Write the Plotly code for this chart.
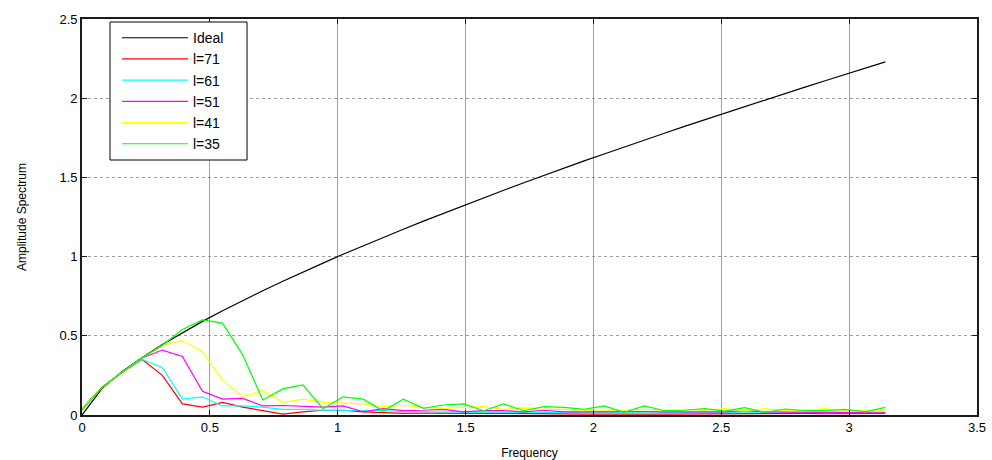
import plotly.graph_objects as go

# Frequency samples (0 .. pi, 41 points)
frequency = [0.0, 0.0785, 0.1571, 0.2356, 0.3142, 0.3927, 0.4712, 0.5498, 0.6283, 0.7069,
             0.7854, 0.8639, 0.9425, 1.0210, 1.0996, 1.1781, 1.2566, 1.3352, 1.4137, 1.4923,
             1.5708, 1.6493, 1.7279, 1.8064, 1.8850, 1.9635, 2.0420, 2.1206, 2.1991, 2.2777,
             2.3562, 2.4347, 2.5133, 2.5918, 2.6704, 2.7489, 2.8274, 2.9060, 2.9845, 3.0631,
             3.1416]

ideal = [0.0, 0.168, 0.274, 0.363, 0.445, 0.520, 0.591, 0.658, 0.722, 0.784,
         0.844, 0.903, 0.959, 1.015, 1.069, 1.122, 1.173, 1.224, 1.274, 1.323,
         1.372, 1.419, 1.466, 1.513, 1.558, 1.604, 1.648, 1.693, 1.736, 1.779,
         1.822, 1.864, 1.906, 1.948, 1.989, 2.030, 2.070, 2.110, 2.150, 2.189,
         2.229]

l71 = [0.04, 0.175, 0.27, 0.35, 0.25, 0.07, 0.05, 0.08, 0.05, 0.027,
       0.005, 0.02, 0.03, 0.03, 0.02, 0.015, 0.01, 0.012, 0.01, 0.008,
       0.01, 0.01, 0.008, 0.01, 0.008, 0.006, 0.006, 0.008, 0.006, 0.005,
       0.006, 0.006, 0.005, 0.006, 0.008, 0.01, 0.01, 0.008, 0.01, 0.01,
       0.01]

l61 = [0.04, 0.175, 0.27, 0.35, 0.30, 0.10, 0.115, 0.057, 0.057, 0.05,
       0.036, 0.036, 0.03, 0.03, 0.028, 0.028, 0.022, 0.02, 0.02, 0.018,
       0.02, 0.018, 0.02, 0.016, 0.018, 0.016, 0.015, 0.016, 0.014, 0.015,
       0.015, 0.016, 0.014, 0.015, 0.016, 0.018, 0.019, 0.02, 0.019, 0.018,
       0.019]

l51 = [0.04, 0.175, 0.27, 0.36, 0.41, 0.37, 0.15, 0.10, 0.105, 0.057,
       0.06, 0.057, 0.05, 0.057, 0.02, 0.04, 0.027, 0.03, 0.036, 0.02,
       0.027, 0.027, 0.02, 0.03, 0.02, 0.02, 0.022, 0.02, 0.022, 0.02,
       0.02, 0.018, 0.02, 0.027, 0.02, 0.018, 0.017, 0.017, 0.018, 0.015,
       0.013]

l41 = [0.04, 0.175, 0.27, 0.36, 0.44, 0.47, 0.40, 0.22, 0.115, 0.155,
       0.08, 0.10, 0.08, 0.074, 0.07, 0.053, 0.06, 0.048, 0.042, 0.048,
       0.053, 0.036, 0.044, 0.036, 0.036, 0.03, 0.03, 0.03, 0.036, 0.03,
       0.036, 0.03, 0.04, 0.027, 0.04, 0.027, 0.027, 0.04, 0.027, 0.027,
       0.03]

l35 = [0.03, 0.175, 0.27, 0.36, 0.44, 0.54, 0.60, 0.58, 0.38, 0.095,
       0.165, 0.19, 0.04, 0.115, 0.10, 0.025, 0.10, 0.042, 0.063, 0.07,
       0.027, 0.07, 0.027, 0.053, 0.048, 0.036, 0.057, 0.017, 0.057, 0.027,
       0.03, 0.04, 0.025, 0.046, 0.017, 0.038, 0.027, 0.027, 0.036, 0.02,
       0.048]

series_names = ["Ideal", "l=71", "l=61", "l=51", "l=41", "l=35"]
series_values = [ideal, l71, l61, l51, l41, l35]
series_colors = ["#000000", "#ff0000", "#00ffff", "#ff00ff", "#ffff00", "#00ff00"]

x_ticks = [0, 0.5, 1, 1.5, 2, 2.5, 3, 3.5]
x_tick_labels = ["0", "0.5", "1", "1.5", "2", "2.5", "3", "3.5"]
y_ticks = [0, 0.5, 1, 1.5, 2, 2.5]
y_tick_labels = ["0", "0.5", "1", "1.5", "2", "2.5"]

FONT = "Liberation Sans, Arial, Helvetica, sans-serif"

fig = go.Figure()
for name, vals, col in zip(series_names, series_values, series_colors):
    fig.add_trace(go.Scatter(
        x=frequency, y=vals, mode="lines", name=name,
        line=dict(color=col, width=1.2), legendgroup=name,
    ))

axis_common = dict(
    showline=True, linecolor="#1a1a1a", linewidth=1.6, mirror="ticks",
    ticks="inside", ticklen=5, tickcolor="#1a1a1a", tickwidth=1,
    showgrid=True, gridcolor="#a0a0a0", gridwidth=1, automargin=False,
    zeroline=False, tickfont=dict(family=FONT, size=13, color="#000"),
)

# legend frame (white box with black border, behind the legend entries)
fig.add_shape(type="rect", xref="paper", yref="paper",
              x0=0.0313, x1=0.1844, y0=0.6439, y1=0.9924,
              fillcolor="white", line=dict(color="#000", width=1), layer="above")

fig.update_layout(
    width=992, height=460,
    margin=dict(l=82, r=15, t=19, b=45),
    paper_bgcolor="white", plot_bgcolor="white",
    font=dict(family=FONT, size=13, color="#000"),
    xaxis=dict(range=[0, 3.5], tickvals=x_ticks, ticktext=x_tick_labels,
               title=dict(text="Frequency", font=dict(size=12), standoff=15),
               griddash="solid", **axis_common),
    yaxis=dict(range=[0, 2.5], tickvals=y_ticks, ticktext=y_tick_labels,
               title=dict(text="Amplitude Spectrum", font=dict(size=12), standoff=30),
               griddash="dot", **axis_common),
    legend=dict(
        x=0.0391, y=0.992, xanchor="left", yanchor="top",
        bgcolor="rgba(0,0,0,0)", borderwidth=0,
        font=dict(family=FONT, size=14, color="#000"),
        tracegroupgap=0, itemwidth=66,
    ),
    showlegend=True,
)

fig.write_html("out.html")
